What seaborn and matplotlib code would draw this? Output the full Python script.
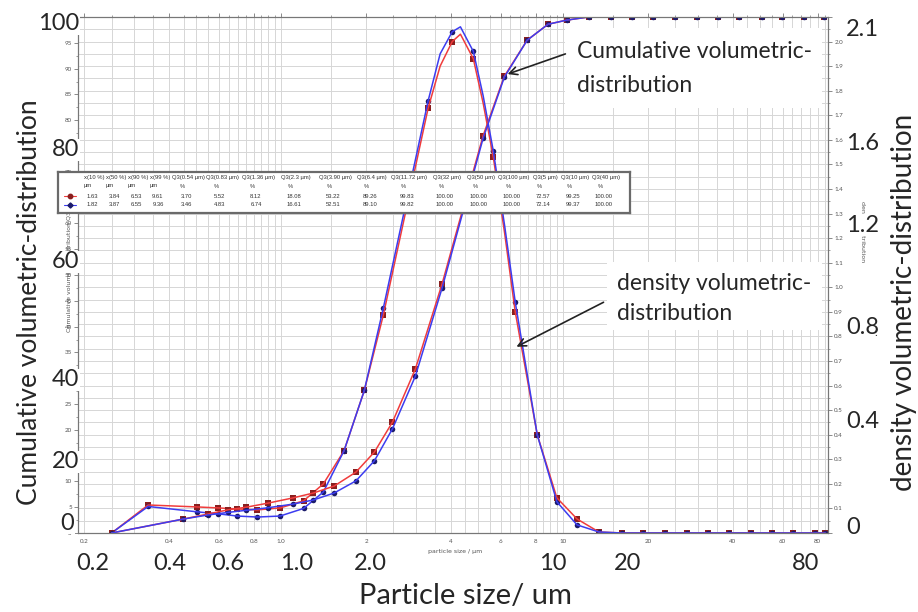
import numpy as np
import pandas as pd
import matplotlib
matplotlib.use("Agg")
import matplotlib.pyplot as plt
from matplotlib.patches import Rectangle, FancyArrowPatch
from matplotlib.ticker import MultipleLocator, FixedLocator, FixedFormatter, NullFormatter
import seaborn as sns

W, H = 918, 612

# density distribution q3 (right axis), measured channel points
dens_x = [0.25, 0.337, 0.504, 0.598, 0.698, 0.822, 0.99, 1.20, 1.41, 1.67, 1.97, 2.30,
          3.32, 4.04, 4.80, 5.65, 6.76, 8.09, 9.50, 11.2, 13.4, 16.2, 19.2, 23.0, 27.5,
          32.6, 38.9, 46.4, 55.2, 65.5, 78.1, 85.0]
dens_red = [0, 0.114, 0.106, 0.102, 0.098, 0.094, 0.102, 0.131, 0.20, 0.335, 0.58, 0.886,
            1.73, 2.00, 1.93, 1.53, 0.90, 0.40, 0.143, 0.057, 0.004, 0, 0, 0, 0,
            0, 0, 0, 0, 0, 0, 0]
dens_blue = [0, 0.108, 0.086, 0.078, 0.069, 0.065, 0.069, 0.10, 0.167, 0.335, 0.58, 0.914,
             1.76, 2.04, 1.96, 1.555, 0.94, 0.40, 0.127, 0.033, 0.004, 0, 0, 0, 0,
             0, 0, 0, 0, 0, 0, 0]
# extra readings of the drawn curve between channels (no markers)
curve_x = [3.66, 4.32, 5.2, 6.2]
curve_red = [1.90, 2.03, 1.75, 1.22]
curve_blue = [1.95, 2.06, 1.78, 1.25]

# cumulative distribution Q3 (left axis)
cum_x = [0.25, 0.449, 0.551, 0.649, 0.751, 0.899, 1.10, 1.30, 1.54, 1.84, 2.14, 2.48,
         2.99, 3.72, 5.2, 6.18, 7.45, 8.84, 10.3, 12.3, 14.8, 17.5, 20.9, 25.0, 29.9,
         35.5, 42.0, 50.6, 59.8, 71.3, 84.2]
cum_red = [0, 2.7, 3.7, 4.5, 5.0, 5.8, 6.8, 7.75, 9.1, 11.8, 15.7, 21.5,
           31.8, 48.3, 77.0, 88.5, 95.5, 98.6, 99.4, 100, 100, 100, 100, 100, 100,
           100, 100, 100, 100, 100, 100]
cum_blue = [0, 2.7, 3.5, 4.0, 4.4, 4.9, 5.6, 6.4, 7.75, 10.1, 14.0, 20.2,
            30.4, 47.5, 76.5, 88.3, 95.5, 98.6, 99.4, 100, 100, 100, 100, 100, 100,
            100, 100, 100, 100, 100, 100]

# result table
table_heads = ["x(10 %)", "x(50 %)", "x(90 %)", "x(99 %)", "Q3(0.54 µm)", "Q3(0.83 µm)",
               "Q3(1.36 µm)", "Q3(2.3 µm)", "Q3(3.90 µm)", "Q3(6.4 µm)", "Q3(11.72 µm)",
               "Q3(32 µm)", "Q3(50 µm)", "Q3(100 µm)", "Q3(5 µm)", "Q3(10 µm)", "Q3(40 µm)"]
table_units = ["µm"] * 4 + ["%"] * 13
table_red = ["1.63", "3.84", "6.53", "9.61", "3.70", "5.52", "8.12", "18.08", "53.22",
             "89.26", "99.83", "100.00", "100.00", "100.00", "72.57", "99.25", "100.00"]
table_blue = ["1.82", "3.87", "6.55", "9.36", "3.46", "4.83", "6.74", "16.61", "52.51",
              "89.10", "99.82", "100.00", "100.00", "100.00", "72.14", "99.37", "100.00"]

inner_xticks = [0.2, 0.4, 0.6, 0.8, 1.0, 2, 4, 6, 8, 10, 20, 40, 60, 80]
inner_xlabels = ["0.2", "0.4", "0.6", "0.8", "1.0", "2", "4", "6", "8", "10", "20", "40", "60", "80"]

big_x_labels = ["0.2", "0.4", "0.6", "1.0", "2.0", "10", "20", "80"]
big_left_labels = ["100", "80", "60", "40", "20", "0"]
big_right_labels = ["2.1", "1.6", "1.2", "0.8", "0.4", "0"]

RED_LINE = "#f03c3c"
RED_MARK = "#8a1f1f"
BLUE_LINE = "#3c3cf0"
BLUE_MARK = "#1b1b6b"
GRID = "#d6d6d6"


def fx(x):
    return x / W


def fy(y):
    return 1 - y / H


sns.set_style("white")
plt.rcParams["font.family"] = ["Lato", "DejaVu Sans"]

fig = plt.figure(figsize=(W / 100, H / 100), dpi=100)
ax = fig.add_axes([fx(78), fy(533), fx(828) - fx(78), fy(17) - fy(533)])
ax.set_xscale("log")
ax2 = ax.twinx()
ax.set_zorder(2)
ax2.set_zorder(1)
ax.patch.set_visible(False)
ax2.patch.set_visible(True)
ax2.patch.set_facecolor("white")

ax.set_xlim(0.19, 87)
ax.set_ylim(0, 100)
ax2.set_ylim(0, 2.1)

# grid lives on the lower (density) axes so it stays behind every curve
grid_x = list(np.arange(0.2, 1.0, 0.05)) + list(np.arange(1.0, 10, 0.5)) + list(np.arange(10, 90, 5))
ax.xaxis.set_major_locator(FixedLocator(inner_xticks))
ax.xaxis.set_major_formatter(FixedFormatter(inner_xlabels))
ax.xaxis.set_minor_locator(FixedLocator(grid_x))
ax.xaxis.set_minor_formatter(NullFormatter())
ax2.xaxis.set_visible(True)
ax2.tick_params(axis="x", which="both", length=0, labelbottom=False)
ax2.yaxis.set_major_locator(MultipleLocator(0.1))
ax2.yaxis.set_minor_locator(MultipleLocator(0.05))
ax2.grid(True, which="both", color=GRID, lw=0.7)

ax.yaxis.set_major_locator(MultipleLocator(5))
ax.yaxis.set_minor_locator(MultipleLocator(2.5))

small = dict(labelsize=4.5, labelcolor="#555555", color="#777777")
ax.tick_params(axis="both", which="major", length=3, width=0.6, pad=1.5, **small)
ax.tick_params(axis="both", which="minor", length=1.5, width=0.5, color="#777777")
ax.tick_params(axis="x", which="both", top=True)
ax2.tick_params(axis="y", which="major", length=3, width=0.6, pad=1.5, **small)
ax2.tick_params(axis="y", which="minor", length=1.5, width=0.5, color="#777777")
ax2.yaxis.set_major_formatter(plt.FuncFormatter(lambda v, p: f"{v:.1f}" if 0 < v < 2.05 else ""))
ax.yaxis.set_major_formatter(plt.FuncFormatter(lambda v, p: f"{v:.0f}"))
for a in (ax, ax2):
    for s in a.spines.values():
        s.set_color("#777777")
        s.set_linewidth(0.8)

# density curves (right axis)
dens_df = pd.DataFrame({"x": dens_x + curve_x, "red": dens_red + curve_red,
                        "blue": dens_blue + curve_blue}).sort_values("x")
sns.lineplot(data=dens_df, x="x", y="red", ax=ax2, color=RED_LINE, lw=1.1, estimator=None)
sns.lineplot(data=dens_df, x="x", y="blue", ax=ax2, color=BLUE_LINE, lw=1.1, estimator=None)
sns.scatterplot(x=dens_x, y=dens_red, ax=ax2, marker="s", s=16, color=RED_MARK, linewidth=0)
sns.scatterplot(x=dens_x, y=dens_blue, ax=ax2, marker="o", s=16, color=BLUE_MARK, linewidth=0)

# cumulative curves (left axis)
sns.lineplot(x=cum_x, y=cum_red, ax=ax, color=RED_LINE, lw=1.1, estimator=None)
sns.lineplot(x=cum_x, y=cum_blue, ax=ax, color=BLUE_LINE, lw=1.1, estimator=None)
sns.scatterplot(x=cum_x, y=cum_red, ax=ax, marker="s", s=16, color=RED_MARK, linewidth=0)
sns.scatterplot(x=cum_x, y=cum_blue, ax=ax, marker="o", s=16, color=BLUE_MARK, linewidth=0)

ax.set_xlabel("")
ax.set_ylabel("")
ax2.set_ylabel("")

# small software labels
fig.text(fx(455), fy(552), "particle size / µm", fontsize=4.5, color="#555555",
         ha="center", va="center", family="DejaVu Sans")
fig.text(fx(69), fy(265), "Cumulative volumetric-distribution Q3 / %", fontsize=4.5,
         color="#555555", rotation=90, ha="center", va="center", family="DejaVu Sans")
fig.text(fx(862), fy(232), "density distribution", fontsize=4.5, color="#555555",
         rotation=270, ha="center", va="center", family="DejaVu Sans")

# big overlay labels (pasted on white, hiding the small labels beneath)
BIG = 17
cover = dict(fc="white", ec="none", pad=0.5)
for lab, xp in zip(big_x_labels, [93, 170, 228, 297, 370, 553, 628, 806]):
    fig.text(fx(xp), fy(563), lab, fontsize=BIG, ha="center", va="center", bbox=cover)
for lab, yp in zip(big_left_labels, [24, 150, 262, 380, 462, 523]):
    xr = 74 if lab == "0" else 79
    fig.text(fx(xr), fy(yp), lab, fontsize=BIG, ha="right", va="center", bbox=cover)
for lab, yp in zip(big_right_labels, [30, 143, 225, 327, 422, 528]):
    fig.text(fx(846), fy(yp), lab, fontsize=BIG, ha="left", va="center", bbox=cover)
fig.text(fx(876), fy(333), ":", fontsize=8, ha="center", va="center", color="#333333")

fig.text(fx(30), fy(302), "Cumulative volumetric-distribution", fontsize=19, rotation=90,
         ha="center", va="center")
fig.text(fx(904), fy(302), "density volumetric-distribution", fontsize=20, rotation=90,
         ha="center", va="center")
fig.text(fx(465), fy(596), "Particle size/ um", fontsize=21, ha="center", va="center")

# annotation boxes with arrows
fig.add_artist(Rectangle((fx(565), fy(108)), fx(822) - fx(565), fy(28) - fy(108),
                         transform=fig.transFigure, fc="white", ec="none", zorder=5))
fig.text(fx(577), fy(52), "Cumulative volumetric-", fontsize=16.5, ha="left", va="center", zorder=6)
fig.text(fx(577), fy(85), "distribution", fontsize=16.5, ha="left", va="center", zorder=6)
fig.add_artist(Rectangle((fx(607), fy(330)), fx(822) - fx(607), fy(262) - fy(330),
                         transform=fig.transFigure, fc="white", ec="none", zorder=5))
fig.text(fx(617), fy(284), "density volumetric-", fontsize=16.5, ha="left", va="center", zorder=6)
fig.text(fx(617), fy(313), "distribution", fontsize=16.5, ha="left", va="center", zorder=6)

arrow = dict(arrowstyle="->", color="#222222", lw=1.2, mutation_scale=14)
fig.add_artist(FancyArrowPatch((fx(568), fy(53)), (fx(505), fy(75)),
                               transform=fig.transFigure, zorder=7, **arrow))
fig.add_artist(FancyArrowPatch((fx(606), fy(301)), (fx(514), fy(348)),
                               transform=fig.transFigure, zorder=7, **arrow))

# result table overlay
tab = fig.add_axes([fx(58), fy(213), fx(630) - fx(58), fy(172) - fy(213)], zorder=8)
tab.set_xlim(58, 630)
tab.set_ylim(213, 172)
tab.set_xticks([])
tab.set_yticks([])
tab.set_facecolor("white")
for s in tab.spines.values():
    s.set_color("#6a6a6a")
    s.set_linewidth(1.6)
col_x = [94, 116, 138, 160, 188, 222, 258, 296, 335, 372, 409, 447, 481, 514, 545, 575, 606]
tsmall = dict(fontsize=4.2, color="#333333", ha="center", va="center", family="Liberation Sans")
for cx, h, u, r, b in zip(col_x, table_heads, table_units, table_red, table_blue):
    tab.text(cx, 178, h, **tsmall)
    tab.text(cx - 6, 186, u, **tsmall)
    tab.text(cx - 2, 196, r, **tsmall)
    tab.text(cx - 2, 205, b, **tsmall)
tab.plot([64, 76], [196, 196], color=RED_LINE, lw=0.8)
tab.plot([70], [196], marker="o", ms=3.2, color=RED_MARK)
tab.plot([64, 76], [205, 205], color=BLUE_LINE, lw=0.8)
tab.plot([70], [205], marker="D", ms=2.6, color=BLUE_MARK)

fig.savefig("out.png", dpi=100)
